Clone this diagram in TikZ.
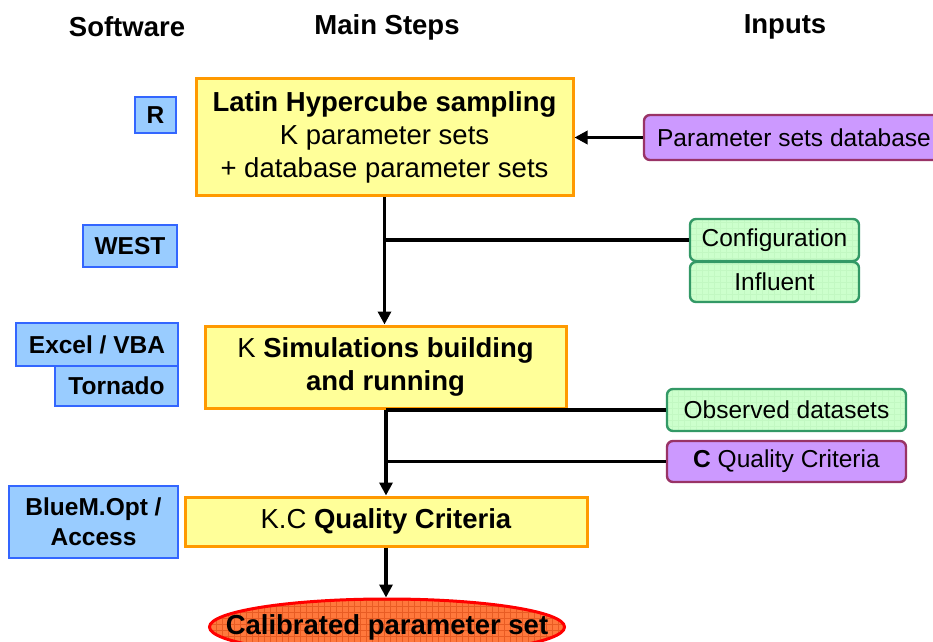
\documentclass[tikz,border=0pt]{standalone}
\usepackage{fontspec}
\setmainfont{Liberation Sans}
\usetikzlibrary{arrows.meta,positioning,shapes.geometric,patterns}
\definecolor{stepfill}{RGB}{255,255,153}
\definecolor{stepdraw}{RGB}{255,153,0}
\definecolor{toolfill}{RGB}{153,204,255}
\definecolor{tooldraw}{RGB}{51,102,255}
\definecolor{datafill}{RGB}{204,255,204}
\definecolor{datadraw}{RGB}{51,153,102}
\definecolor{datagrid}{RGB}{194,248,194}
\definecolor{critfill}{RGB}{204,153,255}
\definecolor{critdraw}{RGB}{153,51,102}
\definecolor{calfill}{RGB}{255,120,60}
\definecolor{calgrid}{RGB}{232,92,36}

\begin{document}
\begin{tikzpicture}[x=0.5pt,y=-0.5pt,
  every node/.style={inner sep=0pt,align=center,font=\fontsize{12.25}{15}\selectfont},
  headtxt/.style={font=\fontsize{13.75}{16}\selectfont\bfseries},
  stepbox/.style={draw=stepdraw,fill=stepfill,line width=1.5pt,font=\fontsize{13.75}{16.6}\selectfont},
  toolbox/.style={draw=tooldraw,fill=toolfill,line width=0.8pt,font=\fontsize{12.25}{15}\selectfont\bfseries},
  databox/.style={draw=datadraw,preaction={fill=datafill},pattern=grid,pattern color=datagrid,
    line width=1.2pt,rounded corners=3pt},
  critbox/.style={draw=critdraw,fill=critfill,line width=1.2pt,rounded corners=3pt},
  flow/.style={line width=1.9pt,-{Triangle[length=6.5pt,width=6.5pt]}},
  feed/.style={line width=1.9pt}]
  \useasboundingbox (0,0) rectangle (933,642);

  % column titles
  \node[headtxt] (hsoft) at (127,27) {Software};
  \node[headtxt] (hmain) at (387,27) {Main Steps};
  \node[headtxt] (hin) at (785,27) {Inputs};

  % main steps
  \node[stepbox,minimum width=188.5pt,minimum height=58.5pt] (lhs) at (384.5,137.5)
    {\textbf{Latin Hypercube sampling}\\K parameter sets\\+ database parameter sets};
  \node[stepbox,minimum width=180.5pt,minimum height=41pt] (sim) at (385.5,367)
    {K \textbf{Simulations building}\\\textbf{and running}};
  \node[stepbox,minimum width=201pt,minimum height=24.5pt] (qc) at (386,521.5)
    {K.C \textbf{Quality Criteria}};
  \node[ellipse,draw=red,preaction={fill=calfill},pattern=grid,pattern color=calgrid,
    line width=1.5pt,inner xsep=-18pt,minimum width=177.5pt,minimum height=28pt,
    font=\fontsize{13.75}{16}\selectfont\bfseries]
    (cal) at (387,627) {Calibrated parameter set};

  % software
  \node[toolbox,minimum width=20.5pt,minimum height=18pt] (r) at (155.5,115) {R};
  \node[toolbox,minimum width=47pt,minimum height=21pt] (west) at (130,246) {WEST};
  \node[toolbox,minimum width=81pt,minimum height=21.5pt] (excel) at (97,344.5) {Excel / VBA};
  \node[toolbox,minimum width=61.5pt,minimum height=20pt] (tornado) at (116.5,386) {Tornado};
  \node[toolbox,minimum width=84.5pt,minimum height=36pt] (bluem) at (93.5,522) {BlueM.Opt /\\Access};

  % inputs
  \node[critbox,minimum width=150pt,minimum height=22.5pt] (pdb) at (794,137.5) {Parameter sets database};
  \node[databox,minimum width=84.5pt,minimum height=21pt] (conf) at (774.5,240) {Configuration};
  \node[databox,minimum width=84.5pt,minimum height=20pt] (infl) at (774.5,282) {Influent};
  \node[databox,minimum width=119.5pt,minimum height=21pt] (obs) at (786.5,410) {Observed datasets};
  \node[critbox,minimum width=119.5pt,minimum height=20.5pt] (cqc) at (786.5,461.5) {\textbf{C} Quality Criteria};

  % connectors
  \draw[flow] (pdb.west) -- (lhs.east);
  \draw[flow] (lhs.south) -- (lhs.south |- sim.north);
  \draw[feed] (conf.west) -- (conf.west -| lhs.south);
  \draw[flow] (sim.south -| qc.north) -- (qc.north);
  \draw[feed] (obs.west) -- (obs.west -| qc.north);
  \draw[feed] (cqc.west) -- (cqc.west -| qc.north);
  \draw[flow] (qc.south) -- (qc.south |- cal.north);
\end{tikzpicture}
\end{document}
